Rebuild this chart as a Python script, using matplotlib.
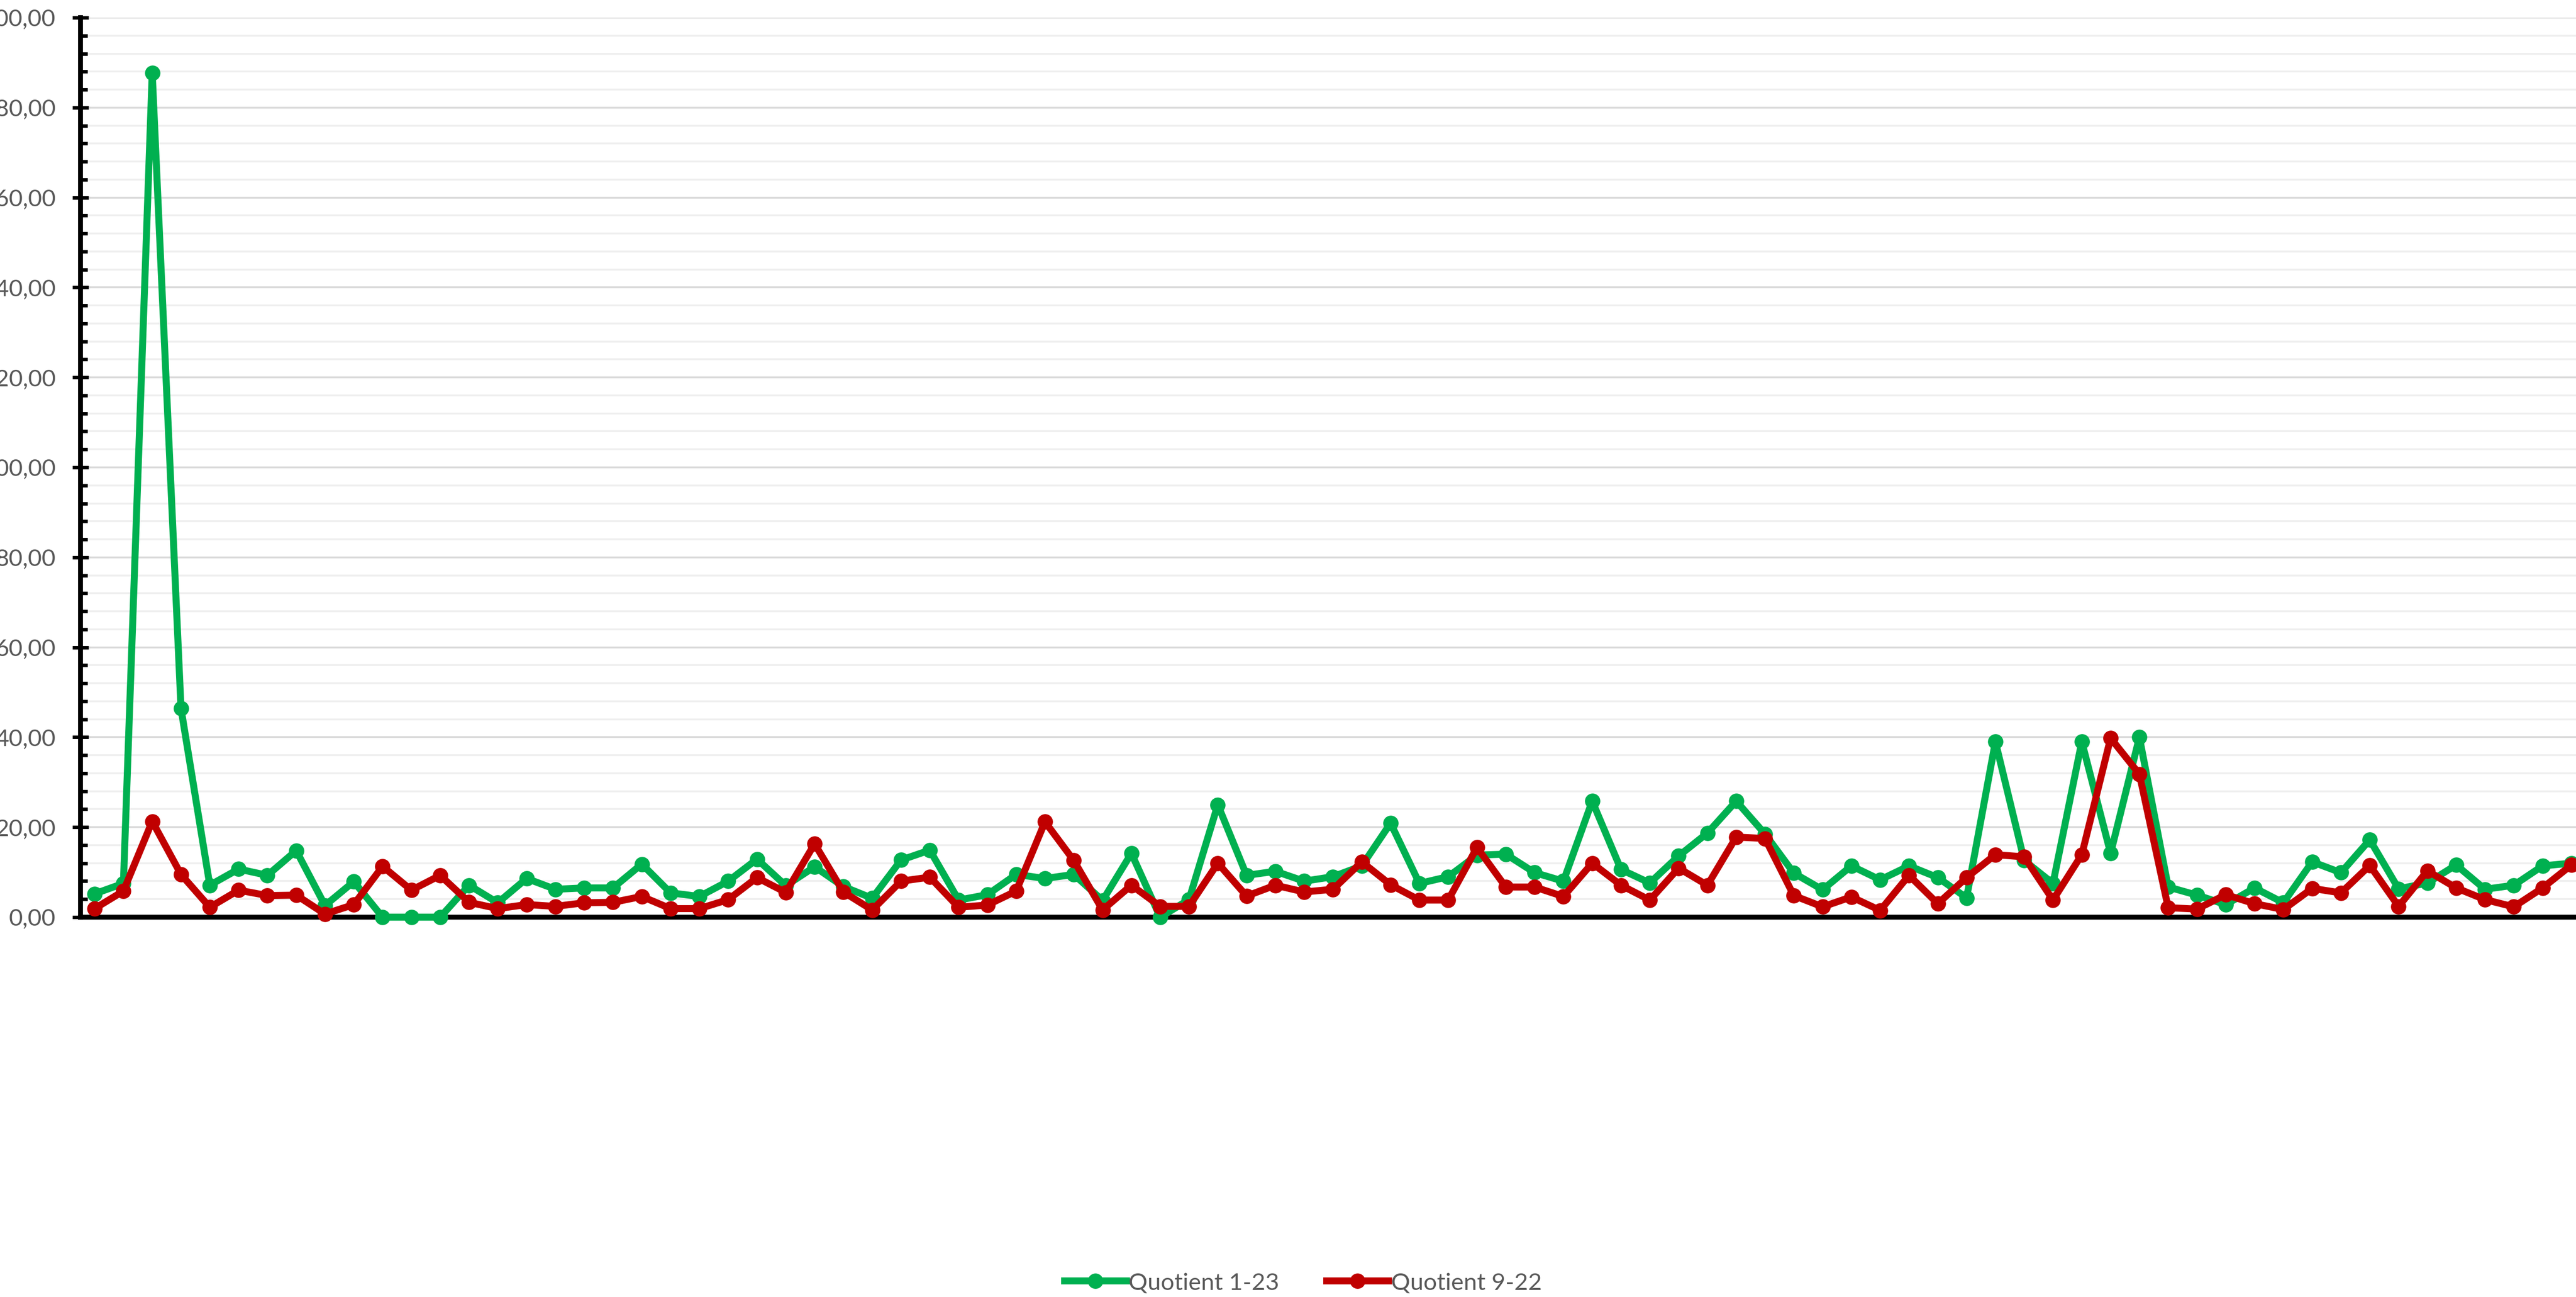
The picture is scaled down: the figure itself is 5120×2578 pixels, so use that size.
import matplotlib
matplotlib.use("Agg")
import matplotlib.pyplot as plt
from matplotlib.ticker import MultipleLocator, FuncFormatter

plt.rcParams['font.family'] = ['Lato', 'DejaVu Sans']

series_names = ["Quotient 1-23", "Quotient 9-22"]

quotient_1_23 = [
    5.2, 7.5, 187.7, 46.4, 7.1, 10.7, 9.3, 14.8, 2.6, 7.9,
    0.0, 0.0, 0.0, 7.1, 3.2, 8.6, 6.2, 6.5, 6.5, 11.8,
    5.4, 4.6, 8.0, 12.9, 7.0, 11.2, 6.8, 4.2, 12.7, 14.9,
    3.8, 5.0, 9.5, 8.6, 9.5, 3.7, 14.2, 0.0, 3.9, 25.0,
    9.3, 10.2, 8.0, 9.0, 11.4, 20.9, 7.5, 9.0, 13.8, 14.0,
    9.9, 8.0, 25.8, 10.6, 7.6, 13.6, 18.7, 25.8, 18.5, 9.8,
    6.1, 11.4, 8.3, 11.4, 8.8, 4.3, 39.0, 12.6, 7.5, 39.0,
    14.2, 40.0, 6.7, 4.9, 2.8, 6.5, 3.2, 12.3, 9.9, 17.2,
    6.3, 7.6, 11.6, 6.2, 7.1, 11.4, 12.0,
]

quotient_9_22 = [
    1.9, 5.8, 21.3, 9.5, 2.2, 6.0, 4.8, 4.9, 0.7, 2.8,
    11.3, 6.0, 9.3, 3.3, 1.9, 2.8, 2.4, 3.2, 3.3, 4.6,
    1.9, 1.9, 3.9, 8.8, 5.5, 16.3, 5.6, 1.6, 8.0, 8.9,
    2.2, 2.7, 5.8, 21.2, 12.6, 1.6, 7.1, 2.4, 2.4, 12.0,
    4.7, 7.1, 5.6, 6.2, 12.3, 7.2, 3.8, 3.8, 15.5, 6.7,
    6.7, 4.6, 12.0, 7.1, 3.8, 10.9, 7.1, 17.8, 17.5, 4.8,
    2.3, 4.5, 1.5, 9.3, 3.0, 8.8, 13.9, 13.4, 3.8, 13.9,
    39.8, 31.8, 2.1, 1.8, 5.0, 3.0, 1.7, 6.4, 5.4, 11.5,
    2.4, 10.3, 6.5, 3.9, 2.3, 6.5, 11.6,
]

categories = list(range(len(quotient_1_23)))

GREEN = "#00B050"
RED = "#C00000"
TEXT = "#595959"

fig = plt.figure(figsize=(51.2, 25.78), dpi=100)
ax = fig.add_axes([160 / 5120, 1 - 1823 / 2578, 1 - 160 / 5120, (1823 - 35) / 2578])

ax.plot(categories, quotient_1_23, color=GREEN, lw=10, marker='o', ms=21,
        label=series_names[0], clip_on=False, zorder=3)
ax.plot(categories, quotient_9_22, color=RED, lw=10, marker='o', ms=21,
        label=series_names[1], clip_on=False, zorder=4)

ax.set_ylim(0, 200)
ax.set_xlim(-0.49, 86.16)

ax.yaxis.set_major_locator(MultipleLocator(20))
ax.yaxis.set_minor_locator(MultipleLocator(4))
ax.yaxis.set_major_formatter(FuncFormatter(lambda v, p: f"{v:.2f}".replace('.', ',')))

ax.grid(which='major', axis='y', color='#d9d9d9', lw=2.6, zorder=0)
ax.grid(which='minor', axis='y', color='#eeeeee', lw=2.6, zorder=0)
ax.set_axisbelow(True)

ax.tick_params(axis='y', which='major', direction='inout', length=23, width=5,
               color='black', labelsize=34, labelcolor=TEXT, pad=24)
ax.tick_params(axis='y', which='minor', direction='in', length=10, width=5, color='black')
ax.tick_params(axis='x', which='both', bottom=False, labelbottom=False)

for s in ['top', 'right']:
    ax.spines[s].set_visible(False)
for s in ['left', 'bottom']:
    ax.spines[s].set_linewidth(7)
    ax.spines[s].set_color('black')
    ax.spines[s].set_zorder(2.5)

leg = fig.legend(loc='center', bbox_to_anchor=(2590 / 5120, 1 - 2550 / 2578), ncol=2,
                 frameon=False, fontsize=34, handlelength=2.6, handletextpad=0.1,
                 columnspacing=2.0, labelcolor=TEXT)

fig.savefig("out.png", dpi=100, facecolor='white')
